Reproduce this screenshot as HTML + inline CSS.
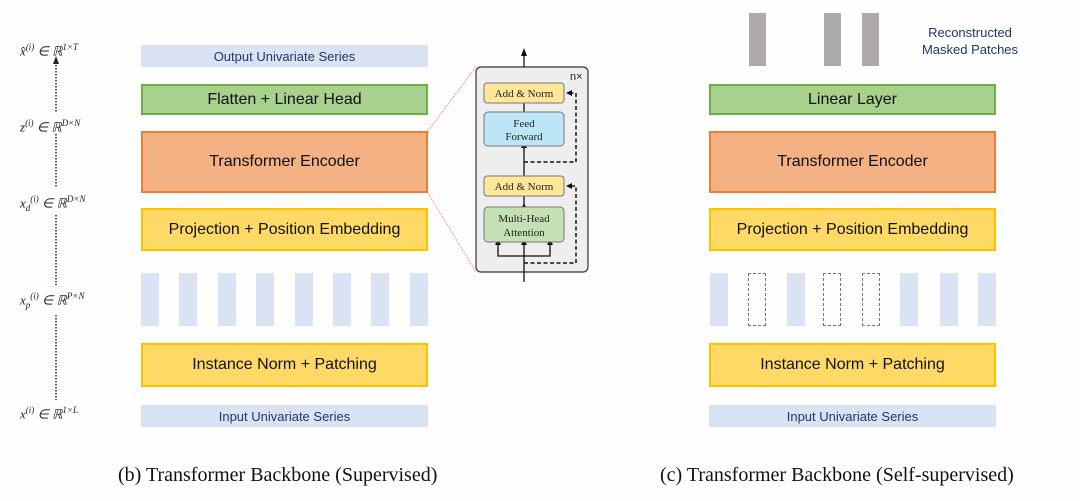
<!DOCTYPE html>
<html><head><meta charset="utf-8"><style>
body{margin:0;width:1080px;height:501px;background:#fefefe;position:relative;overflow:hidden;font-family:"Liberation Sans",sans-serif}
.b{position:absolute;box-sizing:border-box;display:flex;align-items:center;justify-content:center;color:#111;font-size:16px}
.g{background:#a9d18e;border:2px solid #70ad47}
.o{background:#f4b183;border:2px solid #ed7d31}
.y{background:#ffd966;border:2px solid #ffc000}
.s{background:#dae3f3;color:#1f3864;font-size:13px}
.p{position:absolute;width:18px;height:53px;background:#dae3f3}
.d{position:absolute;width:16px;height:51px;border:1px dashed #777}
.k{position:absolute;width:17px;height:53px;background:#aeaaaa}
.m{position:absolute;font-family:"Liberation Serif",serif;font-style:italic;font-size:13px;color:#222;left:20px}
.m sup,.m sub{font-size:9px}
.cap{position:absolute;font-family:"Liberation Serif",serif;font-size:20px;color:#111;top:464px}
</style></head><body>
<div class="m" style="top:42px">x̂<sup>(i)</sup> ∈ ℝ<sup>1×T</sup></div>
<div class="m" style="top:118px">z<sup>(i)</sup> ∈ ℝ<sup>D×N</sup></div>
<div class="m" style="top:194px">x<sub>d</sub><sup>(i)</sup> ∈ ℝ<sup>D×N</sup></div>
<div class="m" style="top:291px">x<sub>p</sub><sup>(i)</sup> ∈ ℝ<sup>P×N</sup></div>
<div class="m" style="top:405px">x<sup>(i)</sup> ∈ ℝ<sup>1×L</sup></div>
<svg style="position:absolute;left:0;top:0" width="1080" height="501">
<g stroke="#222" stroke-width="1.5" stroke-dasharray="1.5 1.5">
<line x1="56" y1="62" x2="56" y2="112"/><line x1="56" y1="134" x2="56" y2="188"/><line x1="56" y1="215" x2="56" y2="285"/><line x1="56" y1="315" x2="56" y2="400"/></g>
<polygon points="53,64 59,64 56,56" fill="#222"/>
<line x1="428" y1="131" x2="476" y2="67" stroke="#f4a070" stroke-width="1" stroke-dasharray="2 1"/>
<line x1="428" y1="193" x2="476" y2="272" stroke="#f4a070" stroke-width="1" stroke-dasharray="2 1"/>
<rect x="476" y="67" width="112" height="205" rx="5" fill="#eee" stroke="#333" stroke-width="1.2"/>
<text x="570" y="80" font-size="11" fill="#222">n×</text>
<g stroke="#111" stroke-width="1.3" fill="none">
<line x1="524" y1="67" x2="524" y2="55"/><line x1="524" y1="103" x2="524" y2="112"/><line x1="524" y1="146" x2="524" y2="176"/><line x1="524" y1="196" x2="524" y2="207"/>
<line x1="524" y1="282" x2="524" y2="242"/><polyline points="498,242 498,256 550,256 550,242"/></g>
<g fill="#111"><polygon points="521,56 527,56 524,48"/><polygon points="521,148 527,148 524,142"/><polygon points="521,209 527,209 524,203"/><polygon points="495,245 501,245 498,239"/><polygon points="547,245 553,245 550,239"/><polygon points="521,245 527,245 524,239"/>
<polygon points="566,90 566,96 572,93" transform="rotate(180 569 93)"/><polygon points="566,183 566,189 572,186" transform="rotate(180 569 186)"/></g>
<g stroke="#111" stroke-width="1.5" fill="none" stroke-dasharray="4 2.5">
<polyline points="524,162 576,162 576,93 571,93"/><polyline points="524,263 576,263 576,186 571,186"/></g>
<rect x="484" y="83" width="80" height="20" rx="3" fill="#ffe699" stroke="#777"/>
<rect x="484" y="112" width="80" height="34" rx="4" fill="#bde5f8" stroke="#777"/>
<rect x="484" y="176" width="80" height="20" rx="3" fill="#ffe699" stroke="#777"/>
<rect x="484" y="207" width="80" height="35" rx="4" fill="#c5e0b4" stroke="#777"/>
<g font-family="Liberation Serif,serif" font-size="11" fill="#222" text-anchor="middle">
<text x="524" y="97">Add &amp; Norm</text><text x="524" y="127">Feed</text><text x="524" y="140">Forward</text>
<text x="524" y="190">Add &amp; Norm</text><text x="524" y="222">Multi-Head</text><text x="524" y="236">Attention</text></g>
</svg>
<div class="b s" style="left:141px;top:45px;width:287px;height:22px">Output Univariate Series</div>
<div class="b g" style="left:141px;top:84px;width:287px;height:31px">Flatten + Linear Head</div>
<div class="b o" style="left:141px;top:131px;width:287px;height:62px">Transformer Encoder</div>
<div class="b y" style="left:141px;top:208px;width:287px;height:43px">Projection + Position Embedding</div>
<div class="p" style="left:141px;top:273px"></div><div class="p" style="left:179px;top:273px"></div><div class="p" style="left:218px;top:273px"></div><div class="p" style="left:256px;top:273px"></div><div class="p" style="left:295px;top:273px"></div><div class="p" style="left:333px;top:273px"></div><div class="p" style="left:371px;top:273px"></div><div class="p" style="left:410px;top:273px"></div>
<div class="b y" style="left:141px;top:343px;width:287px;height:44px">Instance Norm + Patching</div>
<div class="b s" style="left:141px;top:405px;width:287px;height:22px">Input Univariate Series</div>

<div class="k" style="left:749px;top:13px"></div><div class="k" style="left:824px;top:13px"></div><div class="k" style="left:862px;top:13px"></div>
<div style="position:absolute;left:915px;top:24px;width:110px;text-align:center;color:#1f3864;font-size:13px;line-height:17px">Reconstructed<br>Masked Patches</div>
<div class="b g" style="left:709px;top:84px;width:287px;height:31px">Linear Layer</div>
<div class="b o" style="left:709px;top:131px;width:287px;height:62px">Transformer Encoder</div>
<div class="b y" style="left:709px;top:208px;width:287px;height:43px">Projection + Position Embedding</div>
<div class="p" style="left:710px;top:273px"></div><div class="d" style="left:748px;top:273px"></div><div class="p" style="left:787px;top:273px"></div><div class="d" style="left:823px;top:273px"></div><div class="d" style="left:862px;top:273px"></div><div class="p" style="left:900px;top:273px"></div><div class="p" style="left:940px;top:273px"></div><div class="p" style="left:978px;top:273px"></div>
<div class="b y" style="left:709px;top:343px;width:287px;height:44px">Instance Norm + Patching</div>
<div class="b s" style="left:709px;top:405px;width:287px;height:22px">Input Univariate Series</div>

<div class="cap" style="left:118px">(b) Transformer Backbone (Supervised)</div>
<div class="cap" style="left:660px">(c) Transformer Backbone (Self-supervised)</div>
</body></html>
